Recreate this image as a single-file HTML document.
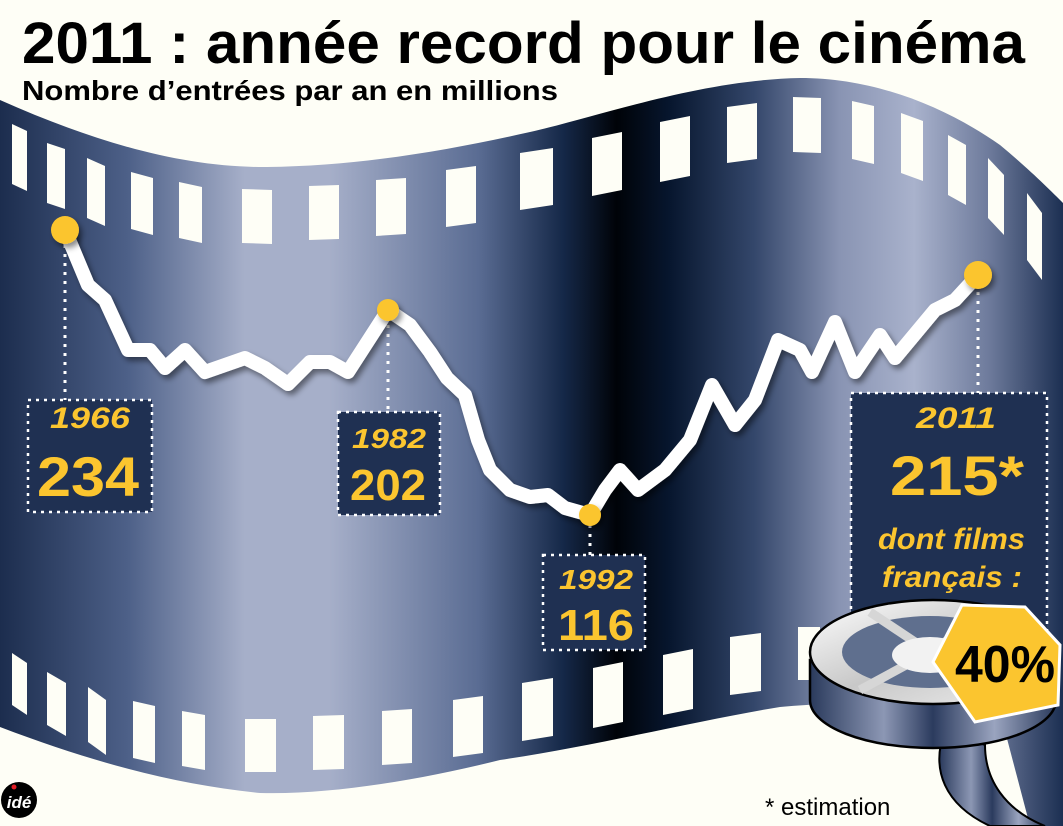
<!DOCTYPE html>
<html><head><meta charset="utf-8"><style>
html,body{margin:0;padding:0;background:#fefef6;}
svg{display:block;}
text{font-family:"Liberation Sans",sans-serif;}
</style></head><body>
<svg width="1063" height="826" viewBox="0 0 1063 826" xmlns="http://www.w3.org/2000/svg">
<defs>
<linearGradient id="band" x1="0" y1="0" x2="1063" y2="0" gradientUnits="userSpaceOnUse">
<stop offset="0" stop-color="#1c2d4e"/><stop offset="0.12" stop-color="#4d6088"/>
<stop offset="0.23" stop-color="#a6afc9"/><stop offset="0.31" stop-color="#a6afc9"/>
<stop offset="0.45" stop-color="#5a6c93"/><stop offset="0.53" stop-color="#152848"/>
<stop offset="0.58" stop-color="#000308"/><stop offset="0.63" stop-color="#07162e"/>
<stop offset="0.71" stop-color="#34476b"/><stop offset="0.79" stop-color="#8994b3"/>
<stop offset="0.86" stop-color="#a9b2cc"/><stop offset="0.93" stop-color="#6e7b9c"/>
<stop offset="1" stop-color="#1c2f52"/></linearGradient>
<linearGradient id="side" x1="0" y1="0" x2="1" y2="0">
<stop offset="0" stop-color="#2a3a5c"/><stop offset="0.3" stop-color="#8c97b4"/><stop offset="0.5" stop-color="#2b3b5e"/><stop offset="0.75" stop-color="#9aa4bf"/><stop offset="1" stop-color="#2a3a5c"/></linearGradient>
<linearGradient id="disc" x1="0" y1="0" x2="1" y2="1">
<stop offset="0" stop-color="#ffffff"/><stop offset="0.5" stop-color="#c8c8c8"/><stop offset="1" stop-color="#f0f0f0"/></linearGradient>
<filter id="sh" x="-10%" y="-10%" width="120%" height="120%"><feDropShadow dx="3" dy="4" stdDeviation="3" flood-color="#000" flood-opacity="0.45"/></filter>
</defs>
<rect width="1063" height="826" fill="#fefef6"/>
<path d="M0,100 C90,140 180,168 267,167 C360,166 450,150 530,132 C600,116 700,80 800,78 C880,78 950,110 1000,145 C1030,170 1050,190 1063,203 L1063,826 L1030,826 L1000,712 C950,700 860,700 780,707 C700,720 600,745 500,760 C420,780 330,795 260,793 C180,785 100,765 0,727 Z" fill="url(#band)"/>
<g fill="#fefef6">
<polygon points="12,124 27,131 27,191 12,184"/>
<polygon points="47,143 65,149 65,209 47,203"/>
<polygon points="87,158 105,166 105,226 87,218"/>
<polygon points="131,172 153,178 153,235 131,229"/>
<polygon points="179,182 202,187 202,243 179,238"/>
<polygon points="242,189 272,190 272,244 242,243"/>
<polygon points="309,186 339,185 339,239 309,240"/>
<polygon points="376,180 406,178 406,234 376,236"/>
<polygon points="446,170 476,166 476,223 446,227"/>
<polygon points="520,153 553,148 553,205 520,210"/>
<polygon points="592,138 622,132 622,190 592,196"/>
<polygon points="660,122 690,116 690,176 660,182"/>
<polygon points="727,107 757,103 757,159 727,163"/>
<polygon points="793,97 821,98 821,153 793,152"/>
<polygon points="852,101 874,106 874,164 852,159"/>
<polygon points="901,113 923,121 923,181 901,173"/>
<polygon points="948,135 966,145 966,205 948,195"/>
<polygon points="988,158 1004,175 1004,235 988,218"/>
<polygon points="1027,193 1042,213 1042,280 1027,260"/>
<polygon points="12,653 27,663 27,715 12,705"/>
<polygon points="47,672 66,683 66,736 47,725"/>
<polygon points="88,687 106,700 106,755 88,742"/>
<polygon points="133,701 155,706 155,763 133,758"/>
<polygon points="182,711 205,715 205,770 182,766"/>
<polygon points="245,719 276,719 276,772 245,772"/>
<polygon points="313,716 344,715 344,769 313,770"/>
<polygon points="382,711 412,709 412,763 382,765"/>
<polygon points="453,700 483,696 483,753 453,757"/>
<polygon points="522,683 553,678 553,736 522,741"/>
<polygon points="593,668 623,662 623,722 593,728"/>
<polygon points="663,655 693,649 693,709 663,715"/>
<polygon points="730,637 761,633 761,691 730,695"/>
<polygon points="798,627 820,627 820,680 798,680"/>
</g>
<g stroke="#fff" stroke-width="3" stroke-dasharray="3,6" fill="none">
<line x1="65" y1="245" x2="65" y2="400"/>
<line x1="388" y1="325" x2="388" y2="412"/>
<line x1="590" y1="525" x2="590" y2="555"/>
<line x1="978" y1="292" x2="978" y2="393"/>
</g>
<polyline filter="url(#sh)" fill="none" stroke="#fff" stroke-width="14" stroke-linejoin="round" stroke-linecap="round"
points="65,230 88,285 105,300 128,350 150,350 165,368 185,350 205,372 245,358 265,368 288,384 310,362 330,362 348,372 388,310 410,325 430,352 447,378 465,395 478,440 490,470 510,490 530,497 548,495 565,508 590,515 605,490 620,470 638,490 665,470 690,440 712,385 735,425 755,400 778,340 800,350 812,372 835,322 855,372 880,335 895,358 935,310 955,300 978,275"/>
<g fill="#fbc52f" filter="url(#sh)">
<circle cx="65" cy="230" r="14"/><circle cx="388" cy="310" r="11"/><circle cx="590" cy="515" r="11"/><circle cx="978" cy="275" r="14"/>
</g>
<g fill="#1f3052" stroke="#fff" stroke-width="2.5" stroke-dasharray="3,5">
<rect x="28" y="400" width="124" height="112"/>
<rect x="338" y="412" width="102" height="103"/>
<rect x="543" y="555" width="102" height="95"/>
<rect x="851" y="393" width="196" height="260"/>
</g>
<g fill="#fbc52f" font-weight="bold">
<text x="50" y="428" font-size="30" font-style="italic" textLength="80" lengthAdjust="spacingAndGlyphs">1966</text>
<text x="37" y="496" font-size="56" textLength="102" lengthAdjust="spacingAndGlyphs">234</text>
<text x="352" y="448" font-size="28" font-style="italic" textLength="74" lengthAdjust="spacingAndGlyphs">1982</text>
<text x="350" y="500" font-size="44" textLength="76" lengthAdjust="spacingAndGlyphs">202</text>
<text x="559" y="589" font-size="28" font-style="italic" textLength="74" lengthAdjust="spacingAndGlyphs">1992</text>
<text x="558" y="640" font-size="44" textLength="76" lengthAdjust="spacingAndGlyphs">116</text>
<text x="916" y="428" font-size="30" font-style="italic" textLength="80" lengthAdjust="spacingAndGlyphs">2011</text>
<text x="890" y="495" font-size="56" textLength="134" lengthAdjust="spacingAndGlyphs">215*</text>
<text x="878" y="549" font-size="30" font-style="italic" textLength="147" lengthAdjust="spacingAndGlyphs">dont films</text>
<text x="882" y="587" font-size="30" font-style="italic" textLength="140" lengthAdjust="spacingAndGlyphs">français :</text>
</g>
<path d="M945,730 C930,770 945,805 990,826 L1045,826 C1005,810 985,780 985,745 Z" fill="url(#side)" stroke="#000" stroke-width="2"/>
<path d="M810,660 L810,700 A123,48 0 0 0 1056,700 L1056,660 Z" fill="url(#side)" stroke="#000" stroke-width="2.5"/>
<ellipse cx="933" cy="652" rx="123" ry="52" fill="url(#disc)" stroke="#000" stroke-width="2.5"/>
<ellipse cx="930" cy="652" rx="88" ry="36" fill="#5f6f8e"/>
<g stroke="#d6d6d6" stroke-width="9"><line x1="930" y1="652" x2="870" y2="612"/><line x1="930" y1="652" x2="860" y2="690"/><line x1="930" y1="652" x2="985" y2="615"/></g>
<ellipse cx="930" cy="655" rx="38" ry="18" fill="#f2f2f2"/>
<polygon points="933,662 962,605 1025,607 1060,645 1058,705 975,722" fill="#fbc52f" stroke="#fff" stroke-width="3"/>
<text x="955" y="682" font-size="52" font-weight="bold" fill="#000" textLength="100" lengthAdjust="spacingAndGlyphs">40%</text>
<text x="22" y="63" font-size="58" font-weight="bold" fill="#000" textLength="1003" lengthAdjust="spacingAndGlyphs">2011 : année record pour le cinéma</text>
<text x="22" y="100" font-size="28" font-weight="bold" fill="#000" textLength="536" lengthAdjust="spacingAndGlyphs">Nombre d’entrées par an en millions</text>
<text x="765" y="815" font-size="24" fill="#000">* estimation</text>
<circle cx="19" cy="800" r="18" fill="#000"/>
<text x="19" y="808" font-size="17" font-weight="bold" font-style="italic" fill="#fff" text-anchor="middle">idé</text>
<circle cx="14" cy="787" r="2.5" fill="#e21c24"/>
</svg>
</body></html>
